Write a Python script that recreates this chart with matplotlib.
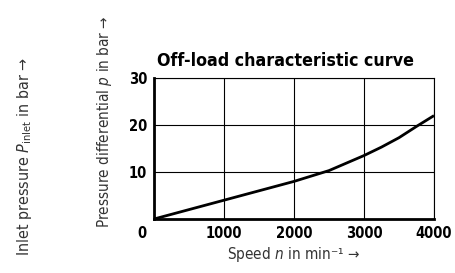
import matplotlib.pyplot as plt
from matplotlib.transforms import ScaledTranslation

plt.rcParams['font.family'] = ['DejaVu Sans']
plt.rcParams['font.stretch'] = 'condensed'
plt.rcParams['mathtext.fontset'] = 'dejavusans'

# data
speed = [0, 500, 1000, 1500, 2000, 2500, 3000, 3250, 3500, 3750, 4000]
pressure = [0, 2.0, 4.0, 6.0, 8.0, 10.3, 13.5, 15.3, 17.3, 19.7, 22.0]
xticks = [0, 1000, 2000, 3000, 4000]
yticks = [10, 20, 30]

fig = plt.figure(figsize=(4.55, 2.73), dpi=100)
ax = fig.add_axes([154 / 455, 1 - 219 / 273, 280 / 455, 141 / 273])

ax.plot(speed, pressure, color='black', lw=2.0, solid_capstyle='butt')
ax.set_xlim(0, 4000)
ax.set_ylim(0, 30)
ax.set_xticks(xticks)
ax.set_yticks(yticks)
ax.grid(True, color='black', lw=0.8)
ax.tick_params(length=0, labelsize=10.5, pad=5)
for lab in ax.get_xticklabels() + ax.get_yticklabels():
    lab.set_fontweight('bold')
# origin label sits left of the axis corner
zero = ax.get_xticklabels()[0]
zero.set_transform(zero.get_transform() + ScaledTranslation(-9 / 72, 0, fig.dpi_scale_trans))

for s in ['left', 'bottom']:
    ax.spines[s].set_linewidth(2.0)
for s in ['top', 'right']:
    ax.spines[s].set_linewidth(0.8)

ax.set_title('Off-load characteristic curve', fontsize=12.8, fontweight='bold',
             x=0.468, pad=9)
ax.set_xlabel('Speed $n$ in min\u207b\u00b9 \u2192', fontsize=11, color='#333333', labelpad=3)

fig.text(105 / 455, 1 - 15 / 273, 'Pressure differential $p$ in bar \u2192', rotation=90,
         ha='center', va='top', fontsize=11, color='#333333')
fig.text(25 / 455, 1 - 57 / 273, 'Inlet pressure $P_{\\mathrm{inlet}}$ in bar \u2192', rotation=90,
         ha='center', va='top', fontsize=11.5, color='#333333')

fig.savefig('out.png', dpi=100)
